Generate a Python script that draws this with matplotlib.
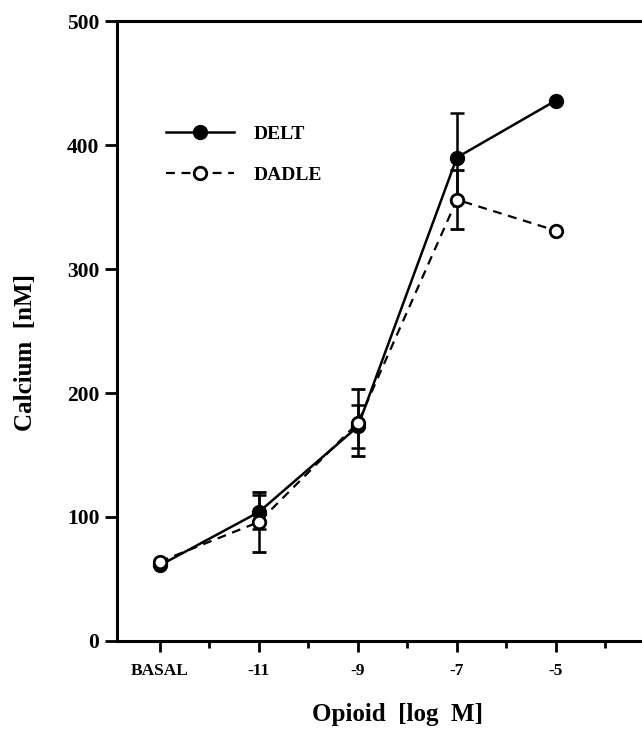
import numpy as np
import matplotlib
matplotlib.use('Agg')
import matplotlib.pyplot as plt

# x positions on a log M scale, BASAL drawn at -13
xPos = [-13, -11, -9, -7, -5]
xTickLabels = ['BASAL', '-11', '-9', '-7', '-5']

delt = [61, 104, 173, 390, 436]
deltErr = [0, 14, 17, 36, 0]
dadle = [64, 96, 176, 356, 331]
dadleErr = [0, 24, 27, 24, 0]

plt.rcParams['font.family'] = ['Liberation Serif', 'DejaVu Serif']
plt.rcParams['font.weight'] = 'bold'

fig = plt.figure(figsize=(6.42, 7.3), dpi=100)
ax = fig.add_axes([0.182, 0.122, 0.818, 0.849])

ax.errorbar(xPos, delt, yerr=deltErr, fmt='-o', color='black', lw=1.8,
            ms=10, mfc='black', mec='black', capsize=5, elinewidth=1.8,
            capthick=1.8, label='DELT', zorder=3)
ax.errorbar(xPos, dadle, yerr=dadleErr, fmt='--o', color='black', lw=1.6,
            dashes=(4, 3), ms=9, mfc='white', mec='black', mew=2,
            capsize=5, elinewidth=1.8, capthick=1.8, label='DADLE', zorder=4)

ax.set_xlim(-13.87, -3.26)
ax.set_ylim(0, 500)
ax.set_xticks(xPos)
ax.set_xticklabels(xTickLabels, fontsize=12.5, fontweight='bold')
ax.set_xticks([-12, -10, -8, -6, -4], minor=True)
ax.set_yticks([0, 100, 200, 300, 400, 500])
ax.tick_params(axis='y', labelsize=15.5, width=2, length=9, direction='out')
ax.tick_params(axis='x', which='major', width=2, length=8, pad=8)
ax.tick_params(axis='x', which='minor', width=2, length=5)
for lab in ax.get_yticklabels():
    lab.set_fontweight('bold')

for s in ['left', 'bottom', 'top']:
    ax.spines[s].set_linewidth(2.2)
ax.spines['right'].set_visible(False)

ax.set_xlabel('Opioid  [log  M]', fontsize=18, fontweight='bold')
ax.xaxis.set_label_coords(0.535, -0.1)
ax.set_ylabel('Calcium  [nM]', fontsize=18, fontweight='bold')
ax.yaxis.set_label_coords(-0.152, 0.465)

handles, labels = ax.get_legend_handles_labels()
handles = [h[0] for h in handles]
leg = ax.legend(handles, labels, loc='upper left', bbox_to_anchor=(0.06, 0.86),
                frameon=False, handlelength=3.5, handletextpad=1.0,
                labelspacing=1.2, prop={'size': 14, 'weight': 'bold'})

fig.savefig('out.png', dpi=100)
